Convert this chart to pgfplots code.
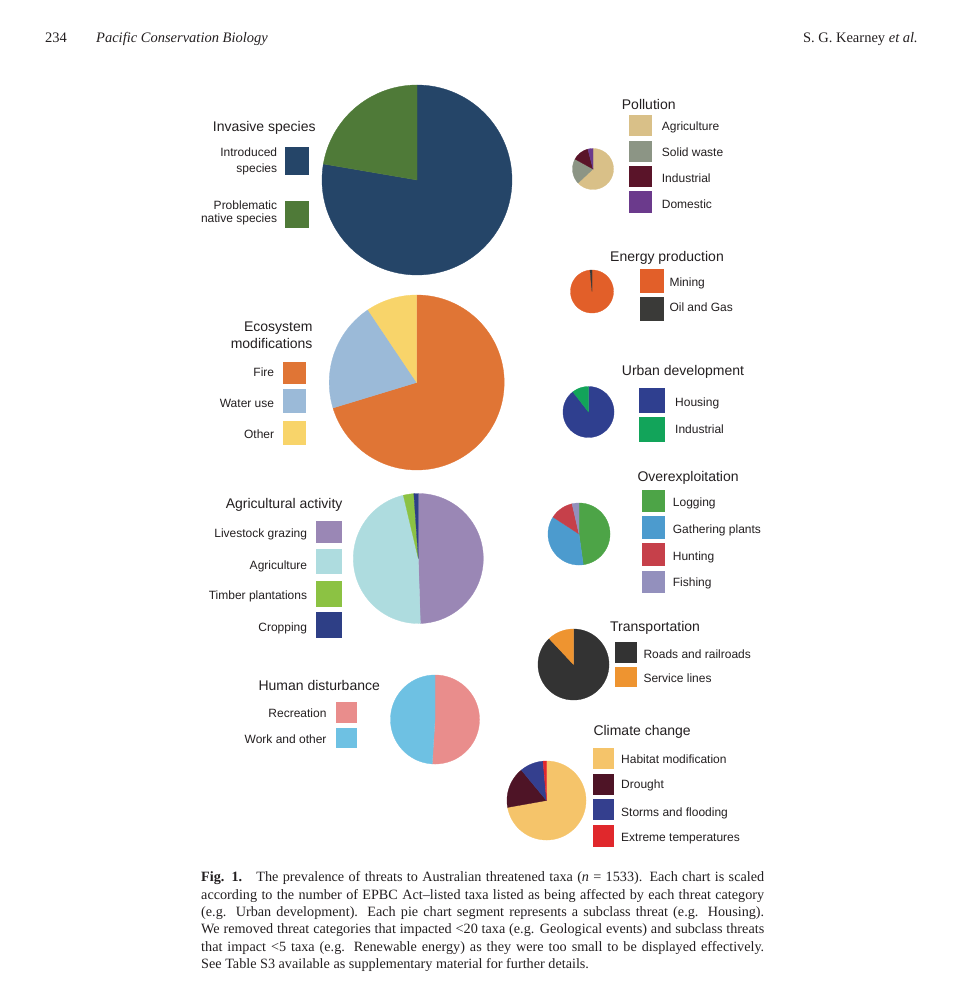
\documentclass[border=0pt]{standalone}
\usepackage{pgfplots}
\pgfplotsset{compat=1.18}
\usepackage{fontspec}
\setmainfont{Liberation Serif}
\setsansfont{Liberation Sans}

% colours
\definecolor{txt}{HTML}{231F20}
\definecolor{invA}{HTML}{254568}
\definecolor{invB}{HTML}{4F7A38}
\definecolor{ecoA}{HTML}{E07535}
\definecolor{ecoB}{HTML}{9BBAD8}
\definecolor{ecoC}{HTML}{F8D46A}
\definecolor{agrA}{HTML}{9A87B5}
\definecolor{agrB}{HTML}{AEDCDF}
\definecolor{agrC}{HTML}{8CC243}
\definecolor{agrD}{HTML}{2E3F86}
\definecolor{humA}{HTML}{E98D8C}
\definecolor{humB}{HTML}{6EC1E3}
\definecolor{polA}{HTML}{D9C088}
\definecolor{polB}{HTML}{8C9585}
\definecolor{polC}{HTML}{5A1429}
\definecolor{polD}{HTML}{6B3A8C}
\definecolor{eneA}{HTML}{E25F29}
\definecolor{eneB}{HTML}{3A3A38}
\definecolor{urbA}{HTML}{2F3F8F}
\definecolor{urbB}{HTML}{12A45A}
\definecolor{ovrA}{HTML}{4DA447}
\definecolor{ovrB}{HTML}{4C9BCE}
\definecolor{ovrC}{HTML}{C6404A}
\definecolor{ovrD}{HTML}{9390BD}
\definecolor{traA}{HTML}{333333}
\definecolor{traB}{HTML}{EE9430}
\definecolor{cliA}{HTML}{F5C46A}
\definecolor{cliB}{HTML}{4E1426}
\definecolor{cliC}{HTML}{343F8E}
\definecolor{cliD}{HTML}{E0282C}

% pie: centre x, centre y, radius, list of share/colour (shares in %, clockwise from 12 o'clock)
\newcommand{\pie}[4]{%
  \gdef\cum{0}%
  \foreach \v/\c in {#4} {%
    \pgfmathsetmacro{\a}{\cum*3.6}%
    \pgfmathsetmacro{\b}{(\cum+\v)*3.6}%
    \edef\doplot{\noexpand\addplot[fill=\c, draw=\c, line width=0.3pt, domain=\a:\b, samples=120]
      ({#1+#3*sin(x)},{#2-#3*cos(x)}) -- (#1,#2) -- cycle;}%
    \doplot
    \pgfmathsetmacro{\nc}{\cum+\v}%
    \xdef\cum{\nc}%
  }%
}
\newcommand{\sw}[5]{\fill[#5] (#1,#2) rectangle (#3,#4);}
\newcommand{\lbR}[3]{\node[anchor=base east, inner sep=0pt, text=txt, font=\sffamily\fontsize{12}{14}\selectfont] at (#1,#2) {#3};}
\newcommand{\lbL}[3]{\node[anchor=base west, inner sep=0pt, text=txt, font=\sffamily\fontsize{12}{14}\selectfont] at (#1,#2) {#3};}
\newcommand{\ttL}[3]{\node[anchor=base west, inner sep=0pt, text=txt, font=\sffamily\fontsize{14}{16}\selectfont] at (#1,#2) {#3};}
\newcommand{\ttR}[3]{\node[anchor=base east, inner sep=0pt, text=txt, font=\sffamily\fontsize{14}{16}\selectfont] at (#1,#2) {#3};}
\newcommand{\capl}[2]{\node[anchor=base west, inner sep=0pt, text=txt, font=\rmfamily\fontsize{14.2}{17}\selectfont] at (201,#1) {#2};}

\begin{document}
\begin{tikzpicture}
\begin{axis}[
  width=975pt, height=1000pt, scale only axis,
  xmin=0, xmax=975, ymin=0, ymax=1000, y dir=reverse,
  hide axis, clip=false,
]
\path (0,0) rectangle (975,1000);

% ---------- header ----------
\node[anchor=base west, inner sep=0pt, text=txt, font=\rmfamily\fontsize{14.5}{17}\selectfont] at (45,43) {234};
\node[anchor=base west, inner sep=0pt, text=txt, font=\rmfamily\itshape\fontsize{14.5}{17}\selectfont] at (96,43) {Pacific Conservation Biology};
\node[anchor=base east, inner sep=0pt, text=txt, font=\rmfamily\fontsize{14.5}{17}\selectfont] at (918,43) {S. G. Kearney \textit{et al.}};

% ---------- Invasive species ----------
\pie{417}{180}{95}{77.7/invA, 22.3/invB}
\ttL{212.7}{131.7}{Invasive species}
\lbR{277.3}{157}{Introduced}
\lbR{277.3}{172.3}{species}
\lbR{277.3}{209.3}{Problematic}
\lbR{277.3}{222.6}{native species}
\sw{285}{147}{309}{175}{invA}
\sw{285}{200.7}{309}{228}{invB}

% ---------- Ecosystem modifications ----------
\pie{416.7}{382.5}{87.5}{70.3/ecoA, 20.3/ecoB, 9.4/ecoC}
\ttR{312.7}{331}{Ecosystem}
\ttR{312.7}{348.3}{modifications}
\lbR{274.3}{376}{Fire}
\lbR{274.3}{407}{Water use}
\lbR{274.3}{438.3}{Other}
\sw{282.7}{361.7}{305.7}{384}{ecoA}
\sw{282.7}{389}{305.7}{412.7}{ecoB}
\sw{282.7}{421}{305.7}{445}{ecoC}

% ---------- Agricultural activity ----------
\pie{418.3}{558.5}{65}{49.5/agrA, 46.8/agrB, 2.6/agrC, 1.1/agrD}
\ttR{342.7}{508}{Agricultural activity}
\lbR{307.3}{537.6}{Livestock grazing}
\lbR{307.3}{569.3}{Agriculture}
\lbR{307.3}{599.3}{Timber plantations}
\lbR{307.3}{631}{Cropping}
\sw{316}{521}{341.7}{543.3}{agrA}
\sw{316}{549}{341.7}{574.3}{agrB}
\sw{316}{580.7}{341.7}{606.7}{agrC}
\sw{316}{612.3}{341.7}{638}{agrD}

% ---------- Human disturbance ----------
\pie{435}{719.5}{44.5}{51/humA, 49/humB}
\ttL{258.3}{690.7}{Human disturbance}
\lbR{326.7}{717}{Recreation}
\lbR{326.7}{743.3}{Work and other}
\sw{336}{702.3}{357.3}{723.3}{humA}
\sw{336}{728.3}{357.3}{748.3}{humB}

% ---------- Pollution ----------
\pie{593}{169}{20.5}{63/polA, 20/polB, 13/polC, 4/polD}
\ttL{621.7}{110}{Pollution}
\sw{629}{115}{652.3}{135.7}{polA}
\sw{629}{140.7}{652.3}{162.3}{polB}
\sw{629}{166}{652.3}{187.3}{polC}
\sw{629}{191}{652.3}{213.3}{polD}
\lbL{661.7}{131}{Agriculture}
\lbL{661.7}{157}{Solid waste}
\lbL{661.7}{182.6}{Industrial}
\lbL{661.7}{208.6}{Domestic}

% ---------- Energy production ----------
\pie{592}{291.5}{21.5}{98.5/eneA, 1.5/eneB}
\ttL{610}{261}{Energy production}
\sw{640}{269.3}{664}{292.7}{eneA}
\sw{640}{296.7}{664}{320.7}{eneB}
\lbL{669.3}{286}{Mining}
\lbL{669.3}{311.6}{Oil and Gas}

% ---------- Urban development ----------
\pie{588.5}{412}{25.5}{89.5/urbA, 10.5/urbB}
\ttL{621.7}{375}{Urban development}
\sw{639.3}{387.7}{665}{413.3}{urbA}
\sw{639.3}{416.7}{665}{442.3}{urbB}
\lbL{675}{406}{Housing}
\lbL{675}{433.3}{Industrial}

% ---------- Overexploitation ----------
\pie{579}{534}{31}{47.8/ovrA, 36.4/ovrB, 12.2/ovrC, 3.6/ovrD}
\ttL{637.3}{481}{Overexploitation}
\sw{641.7}{490}{665}{512.3}{ovrA}
\sw{641.7}{515.7}{665}{539.3}{ovrB}
\sw{641.7}{542.7}{665}{566}{ovrC}
\sw{641.7}{570.7}{665}{593.3}{ovrD}
\lbL{672.7}{506}{Logging}
\lbL{672.7}{533.3}{Gathering plants}
\lbL{672.7}{560}{Hunting}
\lbL{672.7}{586.6}{Fishing}

% ---------- Transportation ----------
\pie{573.5}{664.5}{35.5}{88/traA, 12/traB}
\ttL{610}{631}{Transportation}
\sw{615}{641.7}{637.3}{662.7}{traA}
\sw{615}{666.7}{637.3}{687.3}{traB}
\lbL{643.3}{658.6}{Roads and railroads}
\lbL{643.3}{682.6}{Service lines}

% ---------- Climate change ----------
\pie{546.5}{800.5}{39.5}{72.2/cliA, 16.8/cliB, 9.6/cliC, 1.4/cliD}
\ttL{593.3}{735.7}{Climate change}
\sw{592.7}{748.3}{614}{769.3}{cliA}
\sw{592.7}{774}{614}{795}{cliB}
\sw{592.7}{799.3}{614}{820}{cliC}
\sw{592.7}{825}{614}{846.7}{cliD}
\lbL{621}{763.3}{Habitat modification}
\lbL{621}{788.3}{Drought}
\lbL{621}{816}{Storms and flooding}
\lbL{621}{841.6}{Extreme temperatures}

% ---------- caption ----------
\capl{881.7}{\makebox[563pt][s]{\textbf{Fig. 1.}\quad The prevalence of threats to Australian threatened taxa (\textit{n} = 1533). Each chart is scaled}}
\capl{899.1}{\makebox[563pt][s]{according to the number of EPBC Act–listed taxa listed as being affected by each threat category}}
\capl{916.5}{\makebox[563pt][s]{(e.g. Urban development). Each pie chart segment represents a subclass threat (e.g. Housing).}}
\capl{933.9}{\makebox[563pt][s]{We removed threat categories that impacted <20 taxa (e.g. Geological events) and subclass threats}}
\capl{951.3}{\makebox[563pt][s]{that impact <5 taxa (e.g. Renewable energy) as they were too small to be displayed effectively.}}
\capl{968.7}{See Table S3 available as supplementary material for further details.}
\end{axis}
\end{tikzpicture}
\end{document}
